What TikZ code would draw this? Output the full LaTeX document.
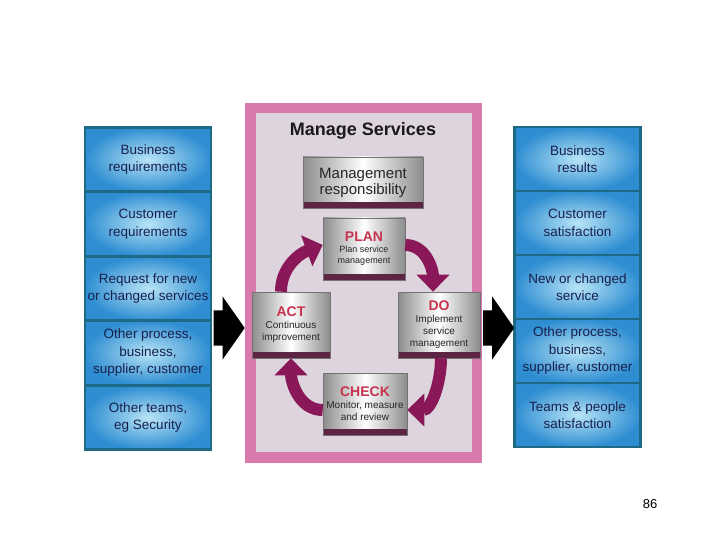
\documentclass[tikz,border=0pt]{standalone}
\usepackage{fontspec}
\setmainfont{Liberation Sans}
\usepackage{xcolor}
\usepackage{tikz}
\usetikzlibrary{arrows.meta,positioning,shapes.arrows}
\definecolor{boxblue}{HTML}{2F8ED2}
\definecolor{boxglow}{HTML}{B8E4F6}
\definecolor{boxedge}{HTML}{1E6A86}
\definecolor{boxtext}{HTML}{18204E}
\definecolor{framepink}{HTML}{D97AAD}
\definecolor{innergray}{HTML}{DDD4DD}
\definecolor{cyclemaroon}{HTML}{8A1858}
\definecolor{bandmaroon}{HTML}{5E2444}
\definecolor{stepred}{HTML}{C8344F}
\tikzset{
  flowbox/.style={draw=boxedge,line width=2.2pt,inner color=boxglow,outer color=boxblue,
                  align=center,font=\fontsize{13.5}{17.5}\selectfont,text=boxtext,
                  minimum width=126pt,minimum height=64pt,inner sep=1pt},
  metalbox/.style={draw=black!55,line width=0.6pt,left color=black!45,right color=black!45,
                   middle color=white,align=center,text=black!85,inner sep=2pt,
                   path picture={\fill[bandmaroon] (path picture bounding box.south west)
                     rectangle ([yshift=6pt]path picture bounding box.south east);}},
  cyclearrow/.style={-{Triangle[length=17pt,width=32pt]},line width=12pt,draw=cyclemaroon},
  blockarrow/.style={single arrow,fill=black,draw=none,minimum height=31pt,
                     minimum width=0pt,inner xsep=0pt,inner ysep=17.5pt,anchor=tail,
                     single arrow head extend=14pt,single arrow tip angle=110},
}
\begin{document}
\begin{tikzpicture}[x=1pt,y=1pt]
  \useasboundingbox[fill=white] (0,0) rectangle (720,-540);
  % inputs
  \foreach \txt [count=\n] in {{Business\\requirements},{Customer\\requirements},
      {Request for new\\or changed services},{Other process,\\business,\\supplier, customer},
      {Other teams,\\eg Security}}{
    \node[flowbox] (in\n) at (148,{-159.5-64.5*(\n-1)}) {\txt};
  }
  % outputs
  \foreach \txt [count=\n] in {{Business\\results},{Customer\\satisfaction},
      {New or changed\\service},{Other process,\\business,\\supplier, customer},
      {Teams \& people\\satisfaction}}{
    \node[flowbox] (out\n) at (577.5,{-159-64*(\n-1)}) {\txt};
  }
  % manage services frame
  \fill[framepink] (245,-103) rectangle (482,-463);
  \fill[innergray] (256,-113) rectangle (472,-452);
  \node[font=\fontsize{18}{20}\selectfont\bfseries,text=black!90] (title) at (363,-131) {Manage Services};
  \node[metalbox,minimum width=120pt,minimum height=51pt,font=\fontsize{15}{16}\selectfont]
    (mgmt) at (363,-182.5) {Management\\responsibility};
  \node[metalbox,minimum width=82pt,minimum height=62pt,font=\fontsize{9}{11}\selectfont]
    (plan) at (364,-249) {\textcolor{stepred}{\fontsize{14}{15}\selectfont\bfseries PLAN}\\Plan service\\management};
  \node[metalbox,minimum width=78pt,minimum height=66pt,font=\fontsize{10}{12}\selectfont]
    (act) at (291,-325) {\textcolor{stepred}{\fontsize{14}{15}\selectfont\bfseries ACT}\\Continuous\\improvement};
  \node[metalbox,minimum width=82pt,minimum height=66pt,font=\fontsize{10}{12}\selectfont]
    (do) at (439,-325) {\textcolor{stepred}{\fontsize{14}{15}\selectfont\bfseries DO}\\Implement\\service\\management};
  \node[metalbox,minimum width=84pt,minimum height=62pt,font=\fontsize{10}{12}\selectfont]
    (check) at (365,-404) {\textcolor{stepred}{\fontsize{14}{15}\selectfont\bfseries CHECK}\\Monitor, measure\\and review};
  % PDCA cycle
  \draw[cyclearrow] ([xshift=-10pt]act.north) to[out=90,in=200] ([yshift=4pt]plan.west);
  \draw[cyclearrow] ([yshift=4pt]plan.east) to[out=0,in=90] ([xshift=-6pt]do.north);
  \draw[cyclearrow] ([xshift=2pt]do.south) to[out=-90,in=0] ([yshift=-6pt]check.east);
  \draw[cyclearrow] ([yshift=-6pt]check.west) to[out=180,in=-90] (act.south);
  % flow in and out
  \node[blockarrow] (inarrow) at (213.5,-328) {};
  \node[blockarrow] (outarrow) at (483,-328) {};
  \node[font=\fontsize{13}{14}\selectfont] (pagenum) at (650,-504) {86};
\end{tikzpicture}
\end{document}
